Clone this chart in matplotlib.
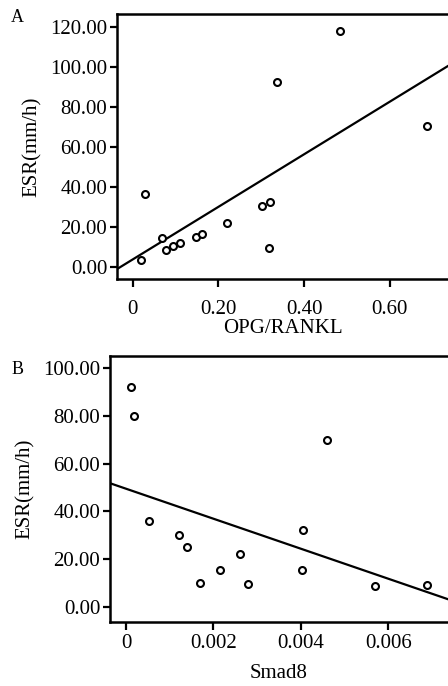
import numpy as np
import matplotlib
matplotlib.use("Agg")
import matplotlib.pyplot as plt

# panel A: OPG/RANKL vs ESR
opg_rankl = [0.020, 0.028, 0.069, 0.078, 0.095, 0.111, 0.147, 0.162, 0.220,
             0.301, 0.320, 0.318, 0.336, 0.484, 0.686]
esr_a = [3.5, 36.5, 14.5, 8.5, 10.5, 12.0, 15.0, 16.5, 22.0,
         30.5, 32.5, 9.5, 92.5, 118.0, 70.5]
fit_a = (131.4, 3.6)  # slope, intercept of drawn fit line

# panel B: Smad8 vs ESR
smad8 = [0.00011, 0.00018, 0.00053, 0.00120, 0.00140, 0.00169, 0.00215,
         0.00260, 0.00279, 0.00405, 0.00403, 0.00460, 0.00569, 0.00690]
esr_b = [92.0, 80.0, 36.0, 30.0, 25.0, 10.0, 15.5, 22.0, 9.5,
         32.0, 15.5, 70.0, 8.5, 9.0]
fit_b = (-6290.0, 49.5)

xticks_a = [0, 0.2, 0.4, 0.6]
xticklabels_a = ["0", "0.20", "0.40", "0.60"]
yticks_a = [0, 20, 40, 60, 80, 100, 120]
xticks_b = [0, 0.002, 0.004, 0.006]
xticklabels_b = ["0", "0.002", "0.004", "0.006"]
yticks_b = [0, 20, 40, 60, 80, 100]

plt.rcParams["font.family"] = ["Liberation Serif", "DejaVu Serif"]
plt.rcParams["font.size"] = 15

fig = plt.figure(figsize=(4.48, 6.86), dpi=100)
ax1 = fig.add_axes([0.261, 0.5933, 0.739, 0.3863])
ax2 = fig.add_axes([0.2455, 0.0937, 0.7545, 0.3873])


def style(ax, xs, ys, fit, xlim, ylim, xt, xtl, yt, xlabel, xpad, lpad):
    ax.plot(xs, ys, "o", ms=5, mfc="white", mec="black", mew=1.5, zorder=3)
    ax.axline((0, fit[1]), slope=fit[0], color="black", lw=1.6)
    ax.set_xlim(*xlim)
    ax.set_ylim(*ylim)
    ax.set_xticks(xt)
    ax.set_xticklabels(xtl)
    ax.set_yticks(yt)
    ax.set_yticklabels([f"{v:.2f}" for v in yt])
    ax.spines["right"].set_visible(False)
    for s in ["left", "top", "bottom"]:
        ax.spines[s].set_linewidth(1.8)
    ax.tick_params(direction="out", length=5, width=1.6, labelsize=15, pad=2)
    ax.tick_params(axis="x", length=6, pad=xpad)
    ax.set_ylabel("ESR(mm/h)", fontsize=15, labelpad=6)
    ax.set_xlabel(xlabel, fontsize=15, labelpad=lpad)


style(ax1, opg_rankl, esr_a, fit_a, (-0.037, 0.736), (-6.2, 126.3),
      xticks_a, xticklabels_a, yticks_a, "OPG/RANKL", 9, 0)
style(ax2, smad8, esr_b, fit_b, (-0.00037, 0.00737), (-6.3, 105.2),
      xticks_b, xticklabels_b, yticks_b, "Smad8", 3, 8)

fig.text(0.025, 0.975, "A", fontsize=13, va="center")
fig.text(0.025, 0.462, "B", fontsize=13, va="center")

fig.savefig("out.png", dpi=100)
